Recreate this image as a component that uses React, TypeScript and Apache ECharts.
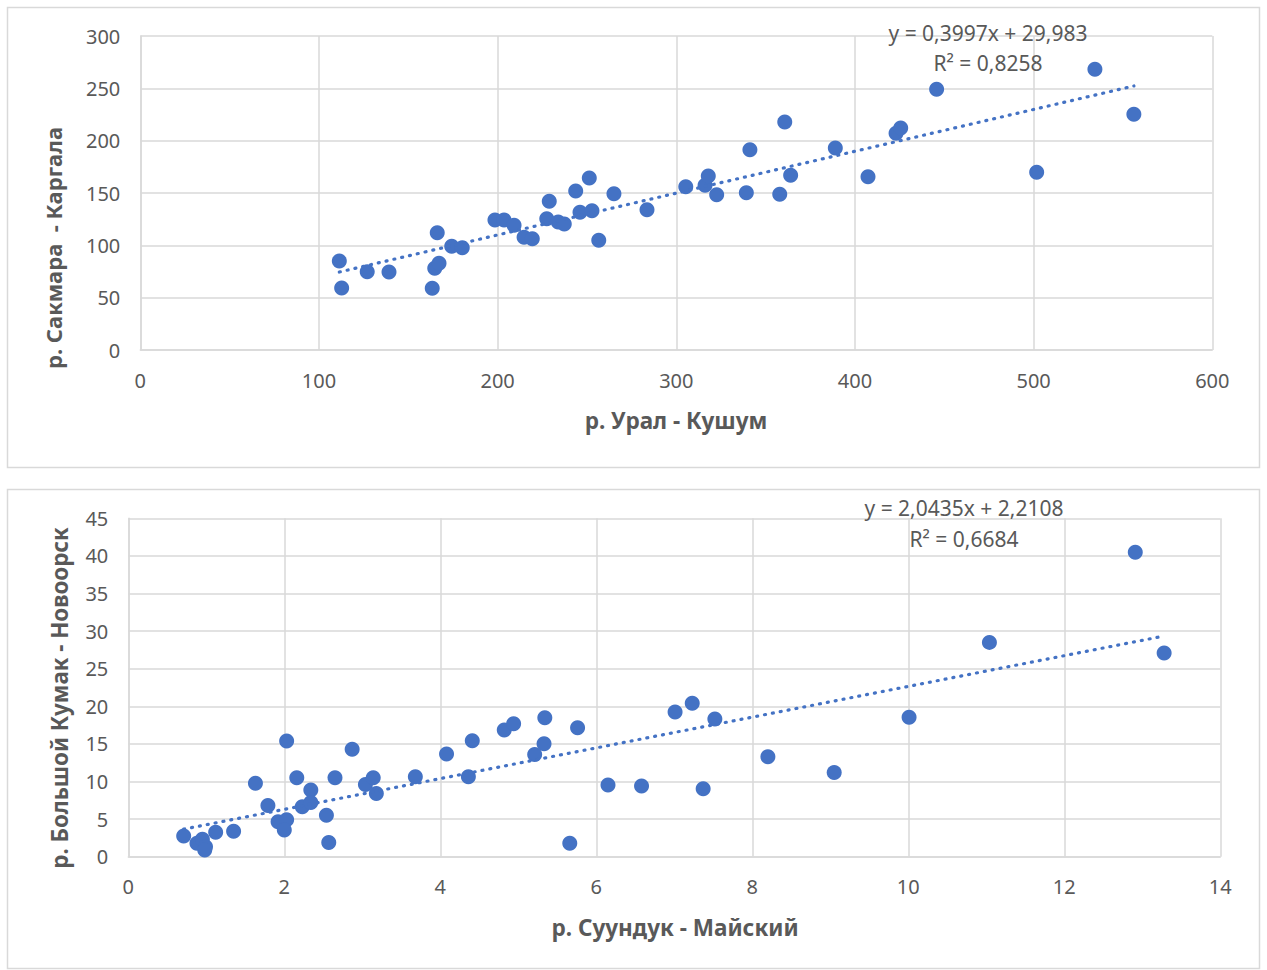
import React, { useEffect, useRef } from "react";
import * as echarts from "echarts";

// р. Урал - Кушум (x) vs р. Сакмара - Каргала (y)
const kushumX = [
  111.4, 112.7, 127.0, 139.2, 163.4, 164.8, 167.2, 166.2, 174.3, 180.2,
  198.5, 203.6, 209.2, 214.8, 219.4, 227.5, 228.9, 233.9, 237.3, 243.7,
  246.1, 251.3, 252.8, 256.6, 265.1, 283.6, 305.3, 316.1, 317.9, 322.6,
  339.2, 341.2, 357.9, 360.7, 364.0, 389.0, 407.3, 423.0, 425.6, 445.7,
  501.7, 534.3, 556.1,
];
const kargalaY = [
  85.0, 59.2, 74.8, 74.5, 59.0, 78.1, 82.8, 112.1, 99.1, 97.7,
  124.2, 124.2, 119.1, 107.7, 106.3, 125.4, 142.1, 122.3, 120.4, 151.9,
  131.6, 164.3, 133.1, 104.8, 149.3, 134.0, 156.0, 157.4, 166.2, 148.4,
  150.3, 191.4, 148.8, 217.8, 166.9, 193.0, 165.6, 207.0, 212.1, 249.1,
  169.8, 268.2, 225.2,
];
const topSlope = 0.3997;
const topIntercept = 29.983;
const topEquation = "y = 0,3997x + 29,983";
const topR2 = "R² = 0,8258";

// р. Суундук - Майский (x) vs р. Большой Кумак - Новоорск (y)
const maiskiyX = [
  0.71, 0.88, 0.95, 0.99, 0.98, 1.12, 1.35, 1.63, 1.79, 1.92,
  2.03, 2.0, 2.03, 2.16, 2.23, 2.34, 2.34, 2.54, 2.57, 2.65,
  2.87, 3.04, 3.14, 3.18, 3.68, 4.08, 4.36, 4.41, 4.82, 4.94,
  5.21, 5.33, 5.34, 5.66, 5.76, 6.15, 6.58, 7.01, 7.23, 7.37,
  7.52, 8.2, 9.05, 10.01, 11.04, 12.91, 13.28,
];
const novoorskY = [
  2.75, 1.78, 2.31, 1.33, 0.89, 3.25, 3.4, 9.76, 6.8, 4.65,
  4.9, 3.55, 15.4, 10.5, 6.65, 8.87, 7.2, 5.5, 1.9, 10.5,
  14.3, 9.6, 10.5, 8.4, 10.64, 13.66, 10.64, 15.43, 16.85, 17.69,
  13.6, 15.03, 18.48, 1.78, 17.15, 9.53, 9.4, 19.24, 20.4, 9.04,
  18.3, 13.3, 11.2, 18.53, 28.5, 40.48, 27.09,
];
const bottomSlope = 2.0435;
const bottomIntercept = 2.2108;
const bottomEquation = "y = 2,0435x + 2,2108";
const bottomR2 = "R² = 0,6684";

const topXTicks = { min: 0, max: 600, interval: 100 };
const topYTicks = { min: 0, max: 300, interval: 50 };
const bottomXTicks = { min: 0, max: 14, interval: 2 };
const bottomYTicks = { min: 0, max: 45, interval: 5 };

const FONT = "Noto Sans";
const TEXT = "#595959";
const GRID = "#d9d9d9";
const BLUE = "#4472C4";

function pairs(xs: number[], ys: number[]) {
  return xs.map((x, i) => [x, ys[i]]);
}

function trend(xs: number[], a: number, b: number) {
  const lo = Math.min(...xs);
  const hi = Math.max(...xs);
  return [
    [lo, a * lo + b],
    [hi, a * hi + b],
  ];
}

function valueAxis(gridIndex: number, t: { min: number; max: number; interval: number }) {
  return {
    type: "value" as const,
    gridIndex,
    min: t.min,
    max: t.max,
    interval: t.interval,
    axisLine: { show: true, lineStyle: { color: GRID, width: 1.5 } },
    axisTick: { show: false },
    axisLabel: { color: TEXT, fontSize: 20, fontFamily: FONT, margin: 20 },
    splitLine: { show: true, lineStyle: { color: GRID, width: 1.5 } },
  };
}

function text(x: number, y: number, s: string, size: number, bold = false, rotation = 0) {
  return {
    type: "text",
    x,
    y,
    rotation,
    style: {
      text: s,
      fill: TEXT,
      font: `${bold ? "bold " : ""}${size}px "${FONT}"`,
      textAlign: "center",
      textVerticalAlign: "middle",
    },
    z: 10,
  };
}

export default function App() {
  const ref = useRef<HTMLDivElement>(null);

  useEffect(() => {
    if (!ref.current) return;
    const chart = echarts.init(ref.current, undefined, { renderer: "svg" });

    const dotted = {
      color: BLUE,
      width: 3.2,
      type: [1, 7],
      cap: "round",
    };

    chart.setOption({
      animation: false,
      backgroundColor: "#ffffff",
      grid: [
        { left: 140.3, top: 36, width: 1072, height: 314 },
        { left: 128.3, top: 518.3, width: 1092, height: 338.4 },
      ],
      xAxis: [valueAxis(0, topXTicks), valueAxis(1, bottomXTicks)],
      yAxis: [valueAxis(0, topYTicks), valueAxis(1, bottomYTicks)],
      series: [
        {
          type: "scatter",
          xAxisIndex: 0,
          yAxisIndex: 0,
          symbolSize: 15,
          itemStyle: { color: BLUE, opacity: 1 },
          data: pairs(kushumX, kargalaY),
          z: 2,
        },
        {
          type: "line",
          xAxisIndex: 0,
          yAxisIndex: 0,
          symbol: "none",
          lineStyle: dotted,
          data: trend(kushumX, topSlope, topIntercept),
          z: 3,
        },
        {
          type: "scatter",
          xAxisIndex: 1,
          yAxisIndex: 1,
          symbolSize: 15,
          itemStyle: { color: BLUE, opacity: 1 },
          data: pairs(maiskiyX, novoorskY),
          z: 2,
        },
        {
          type: "line",
          xAxisIndex: 1,
          yAxisIndex: 1,
          symbol: "none",
          lineStyle: dotted,
          data: trend(maiskiyX, bottomSlope, bottomIntercept),
          z: 3,
        },
      ],
      graphic: [
        {
          type: "rect",
          shape: { x: 7.5, y: 7.5, width: 1252, height: 460 },
          style: { fill: "none", stroke: GRID, lineWidth: 1.5 },
          silent: true,
        },
        {
          type: "rect",
          shape: { x: 7.5, y: 489.5, width: 1252, height: 479 },
          style: { fill: "none", stroke: GRID, lineWidth: 1.5 },
          silent: true,
        },
        text(676, 420, "р. Урал - Кушум", 22.5, true),
        text(53, 248, "р. Сакмара  - Каргала", 22, true, Math.PI / 2),
        text(988, 33, topEquation, 21),
        text(988, 63, topR2, 21),
        text(675, 927, "р. Суундук - Майский", 22.5, true),
        text(59, 698, "р. Большой Кумак - Новоорск", 22.3, true, Math.PI / 2),
        text(964, 508, bottomEquation, 21),
        text(964, 539, bottomR2, 21),
      ],
    });

    return () => chart.dispose();
  }, []);

  return (
    <div
      ref={ref}
      style={{ position: "absolute", left: 0, top: 0, width: 1267, height: 970 }}
    />
  );
}
